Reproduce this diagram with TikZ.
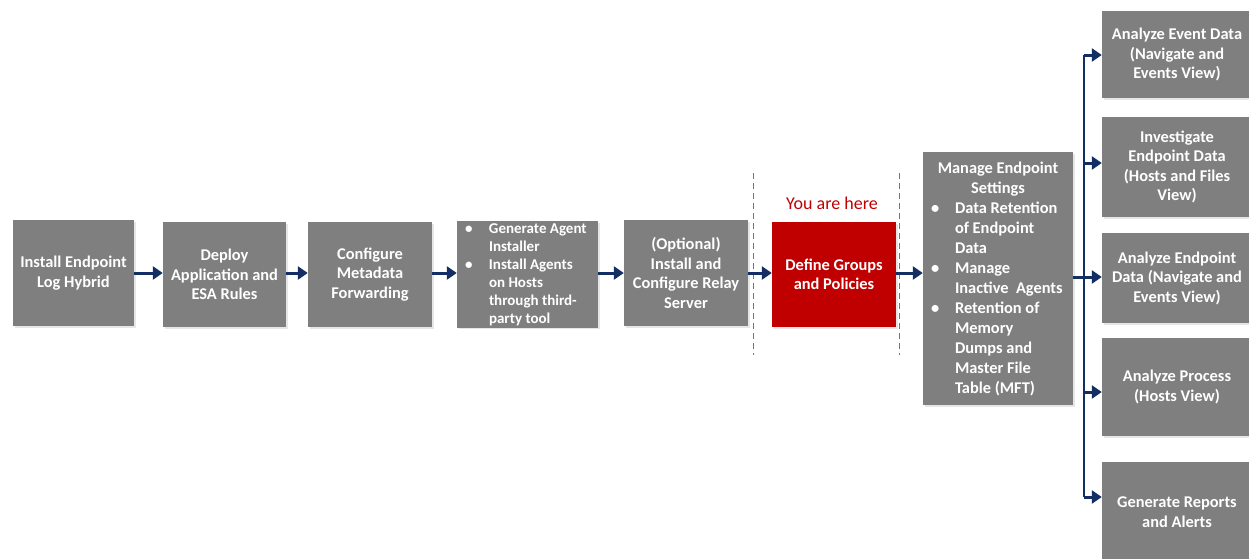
\documentclass[tikz,border=0pt]{standalone}
\usepackage{fontspec}
\setmainfont{Carlito}
\usetikzlibrary{arrows.meta,shadows}

\definecolor{boxgray}{HTML}{7F7F7F}
\definecolor{hereRed}{HTML}{C00000}
\definecolor{flowNavy}{HTML}{132E62}
\definecolor{sepBlue}{HTML}{5B7A9E}

% bullet lines for the list boxes
\newcommand{\bitem}{\hspace*{3pt}\makebox[24pt][l]{\textbullet}}
\newcommand{\bind}{\hspace*{27pt}}

\begin{document}
\begin{tikzpicture}[x=1pt, y=-1pt]
        \tikzstyle{step box}=[fill=boxgray, text=white, font=\bfseries\fontsize{16.4}{19.5}\selectfont,
            align=center, inner sep=2pt,
            drop shadow={opacity=0.2, shadow xshift=1.5pt, shadow yshift=-1.5pt}]
        \tikzstyle{list box}=[step box, align=flush left, inner xsep=5pt]
        \tikzstyle{flow}=[draw=flowNavy, line width=3pt, -{Triangle[length=10pt,width=13pt]}]
        \tikzstyle{separator}=[draw=sepBlue, line width=1pt, dash pattern=on 6pt off 4pt]

        \useasboundingbox (0,0) rectangle (1249,558);

        % Setup steps
        \node[step box, minimum width=121pt, minimum height=106pt] (install) at (73.5,273)
            {Install Endpoint\\Log Hybrid};
        \node[step box, minimum width=123pt, minimum height=105pt] (deploy) at (224.5,274.5)
            {Deploy\\Application and\\ESA Rules};
        \node[step box, minimum width=124pt, minimum height=105pt] (metadata) at (370,274.5)
            {Configure\\Metadata\\Forwarding};
        \node[list box, text width=131pt, minimum height=105pt,
              font=\bfseries\fontsize{15}{18}\selectfont] (agents) at (527.5,274.5)
            {\bitem Generate Agent\\\bind Installer\\\bitem Install Agents\\\bind on Hosts\\\bind through third-\\\bind party tool};
        \node[step box, minimum width=124pt, minimum height=106pt] (relay) at (686,273)
            {(Optional)\\Install and\\Configure Relay\\Server};

        % Current step
        \node[step box, fill=hereRed, minimum width=124pt, minimum height=105pt] (groups) at (834,274.5)
            {Define Groups\\and Policies};
        \node[text=hereRed, font=\fontsize{18}{20}\selectfont] (here) at (832,203) {You are here};
        \coordinate (sepLtop) at (753,173);
        \coordinate (sepLbot) at (753,355);
        \coordinate (sepRtop) at (899,173);
        \coordinate (sepRbot) at (899,355);
        \draw[separator] (sepLtop) -- (sepLbot);
        \draw[separator] (sepRtop) -- (sepRbot);

        % Settings
        \node[list box, text width=140pt, minimum height=253pt,
              font=\bfseries\fontsize{16.4}{20}\selectfont] (settings) at (998,278.5)
            {\makebox[140pt][c]{Manage Endpoint}\\\makebox[140pt][c]{Settings}\\\bitem Data Retention\\\bind of Endpoint\\\bind Data\\\bitem Manage\\\bind Inactive\ \ Agents\\\bitem Retention of\\\bind Memory\\\bind Dumps and\\\bind Master File\\\bind Table (MFT)};

        % Analysis steps
        \node[step box, minimum width=150pt, minimum height=87pt] (events) at (1177,54.5)
            {Analyze Event Data\\(Navigate and\\Events View)};
        \node[step box, minimum width=150pt, minimum height=100pt] (investigate) at (1177,167)
            {Investigate\\Endpoint Data\\(Hosts and Files\\View)};
        \node[step box, minimum width=150pt, minimum height=90pt] (endpoint) at (1177,278)
            {Analyze Endpoint\\Data (Navigate and\\Events View)};
        \node[step box, minimum width=150pt, minimum height=98pt] (process) at (1177,387)
            {Analyze Process\\(Hosts View)};
        \node[step box, minimum width=150pt, minimum height=100pt] (reports) at (1177,512)
            {Generate Reports\\and Alerts};

        % Main flow
        \draw[flow] (install.east |- 0,273) -- (deploy.west |- 0,273);
        \draw[flow] (deploy.east |- 0,273) -- (metadata.west |- 0,273);
        \draw[flow] (metadata.east |- 0,273) -- (agents.west |- 0,273);
        \draw[flow] (agents.east |- 0,273) -- (relay.west |- 0,273);
        \draw[flow] (relay.east |- 0,273) -- (groups.west |- 0,273);
        \draw[flow] (groups.east |- 0,273) -- (settings.west |- 0,273);

        % Branch to analysis
        \coordinate (jEvents) at (1084,55);
        \coordinate (jInvestigate) at (1084,163);
        \coordinate (jEndpoint) at (1084,277);
        \coordinate (jProcess) at (1084,392);
        \coordinate (jReports) at (1084,497);
        \draw[flowNavy, line width=2.4pt] (jEvents) -- (jReports);
        \draw[flow] (settings.east |- jEndpoint) -- (endpoint.west |- jEndpoint);
        \draw[flow] (jEvents) -- (events.west |- jEvents);
        \draw[flow] (jInvestigate) -- (investigate.west |- jInvestigate);
        \draw[flow] (jProcess) -- (process.west |- jProcess);
        \draw[flow] (jReports) -- (reports.west |- jReports);
    \end{tikzpicture}
\end{document}
